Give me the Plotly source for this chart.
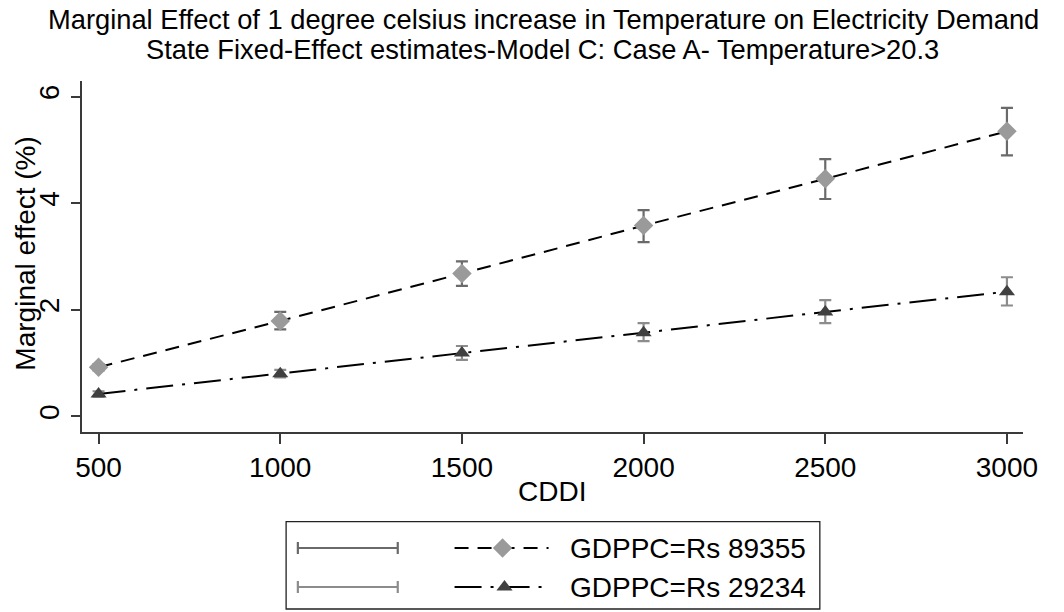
import plotly.graph_objects as go

# ---------------- data ----------------
cddi = [500, 1000, 1500, 2000, 2500, 3000]

high_label = "GDPPC=Rs 89355"
high_me = [0.92, 1.79, 2.68, 3.58, 4.46, 5.35]
high_lo = [0.86, 1.63, 2.45, 3.27, 4.08, 4.90]
high_hi = [0.98, 1.96, 2.91, 3.87, 4.83, 5.79]

low_label = "GDPPC=Rs 29234"
low_me = [0.42, 0.80, 1.19, 1.57, 1.96, 2.34]
low_lo = [0.37, 0.73, 1.06, 1.41, 1.75, 2.08]
low_hi = [0.47, 0.87, 1.32, 1.75, 2.18, 2.61]

x_ticks = [500, 1000, 1500, 2000, 2500, 3000]
y_ticks = [0, 2, 4, 6]

title1 = "Marginal Effect of 1 degree celsius increase in Temperature on Electricity Demand"
title2 = "State Fixed-Effect estimates-Model C: Case A- Temperature>20.3"
x_title = "CDDI"
y_title = "Marginal effect (%)"

# ---------------- styling ----------------
W, H = 1064, 612
FONT = "Liberation Sans, Arial, sans-serif"
AX = "#3a3a3a"
DIA_COL = "#9a9a9a"
TRI_COL = "#404040"
ERR1 = "#6a6a6a"
ERR2 = "#8c8c8c"
DASH1 = "14px,9px"
DASH2 = "27px,9px,3px,9px"
FS_TITLE = 27.3
FS = 28

PL, PR, PT, PB = 77, 1037, 81, 432  # plot region in pixels

fig = go.Figure()

def err(me, lo, hi, col):
    return dict(type="data", symmetric=False,
                array=[h - m for h, m in zip(hi, me)],
                arrayminus=[m - l for m, l in zip(me, lo)],
                color=col, thickness=2.2, width=6)

fig.add_trace(go.Scatter(x=cddi, y=high_me, mode="lines+markers",
                         line=dict(color="black", width=2, dash=DASH1),
                         marker=dict(symbol="diamond", size=15, color=DIA_COL),
                         error_y=err(high_me, high_lo, high_hi, ERR1),
                         showlegend=False))
fig.add_trace(go.Scatter(x=cddi, y=low_me, mode="lines+markers",
                         line=dict(color="black", width=2, dash=DASH2),
                         marker=dict(symbol="triangle-up", size=14, color=TRI_COL),
                         error_y=err(low_me, low_lo, low_hi, ERR2),
                         showlegend=False))

# ---------------- manual legend on a pixel-coordinate overlay axis ----------------
rows = [548.0, 587.0]
key_x0, key_x1, key_mid = 457, 553, 506
fig.add_trace(go.Scatter(x=[key_x0, key_x1], y=[rows[0], rows[0]], xaxis="x2", yaxis="y2",
                         mode="lines", line=dict(color="black", width=2, dash=DASH1),
                         showlegend=False, hoverinfo="skip"))
fig.add_trace(go.Scatter(x=[key_mid], y=[rows[0]], xaxis="x2", yaxis="y2", mode="markers",
                         marker=dict(symbol="diamond", size=15, color=DIA_COL),
                         showlegend=False, hoverinfo="skip"))
fig.add_trace(go.Scatter(x=[key_x0, key_x1], y=[rows[1], rows[1]], xaxis="x2", yaxis="y2",
                         mode="lines", line=dict(color="black", width=2, dash=DASH2),
                         showlegend=False, hoverinfo="skip"))
fig.add_trace(go.Scatter(x=[key_mid + 2], y=[rows[1]], xaxis="x2", yaxis="y2", mode="markers",
                         marker=dict(symbol="triangle-up", size=14, color=TRI_COL),
                         showlegend=False, hoverinfo="skip"))

shapes = [dict(type="rect", xref="x2", yref="y2", x0=285, x1=830, y0=521.7, y1=609,
               line=dict(color="#222", width=1.3), fillcolor="rgba(0,0,0,0)", layer="below")]
for ry, col in zip(rows, [ERR1, ERR2]):
    shapes.append(dict(type="line", xref="x2", yref="y2", x0=297, x1=399, y0=ry, y1=ry,
                       line=dict(color=col, width=2.2)))
    for xx in (297, 399):
        shapes.append(dict(type="line", xref="x2", yref="y2", x0=xx, x1=xx, y0=ry - 6, y1=ry + 6,
                           line=dict(color=col, width=2.2)))

annotations = []
for ry, lab in zip(rows, [high_label, low_label]):
    annotations.append(dict(text=lab, xref="x2", yref="y2", x=573, y=ry, xanchor="left",
                            yanchor="middle", showarrow=False,
                            font=dict(family=FONT, size=FS, color="black")))

annotations += [
    dict(text=title1, xref="x2", yref="y2", x=548, y=19, xanchor="center", yanchor="middle",
         showarrow=False, font=dict(family=FONT, size=FS_TITLE, color="black")),
    dict(text=title2, xref="x2", yref="y2", x=547, y=49, xanchor="center", yanchor="middle",
         showarrow=False, font=dict(family=FONT, size=FS_TITLE, color="black")),
    dict(text=x_title, xref="x2", yref="y2", x=557, y=491, xanchor="center", yanchor="middle",
         showarrow=False, font=dict(family=FONT, size=FS, color="black")),
    dict(text=y_title, xref="x2", yref="y2", x=18, y=254, xanchor="center", yanchor="middle",
         textangle=-90, showarrow=False, font=dict(family=FONT, size=FS, color="black")),
]

fig.update_layout(
    width=W, height=H, autosize=False,
    margin=dict(l=0, r=0, t=0, b=0, pad=0),
    paper_bgcolor="white", plot_bgcolor="rgba(0,0,0,0)",
    font=dict(family=FONT, size=FS, color="black"),
    xaxis=dict(domain=[PL / W, PR / W], range=[455.5, 3043], tickvals=x_ticks,
               ticktext=[str(v) for v in x_ticks],
               showgrid=False, zeroline=False, showline=True, linecolor=AX, linewidth=1.5,
               ticks="outside", ticklen=10, tickwidth=1.5, tickcolor=AX,
               tickfont=dict(family=FONT, size=FS, color="black"), anchor="y"),
    yaxis=dict(domain=[(H - PB) / H, (H - PT) / H], range=[-0.295, 6.295], tickvals=y_ticks,
               ticktext=[str(v) for v in y_ticks], tickangle=-90,
               showgrid=False, zeroline=False, showline=True, linecolor=AX, linewidth=1.5,
               ticks="outside", ticklen=10, tickwidth=1.5, tickcolor=AX,
               tickfont=dict(family=FONT, size=FS, color="black"), anchor="x"),
    xaxis2=dict(domain=[0, 1], range=[0, W], visible=False, anchor="y2", fixedrange=True),
    yaxis2=dict(domain=[0, 1], range=[H, 0], visible=False, anchor="x2", fixedrange=True),
    shapes=shapes,
    annotations=annotations,
    showlegend=False,
)

fig.write_html("out.html", config={"displayModeBar": False},
               post_script="document.body.style.margin='0';")
